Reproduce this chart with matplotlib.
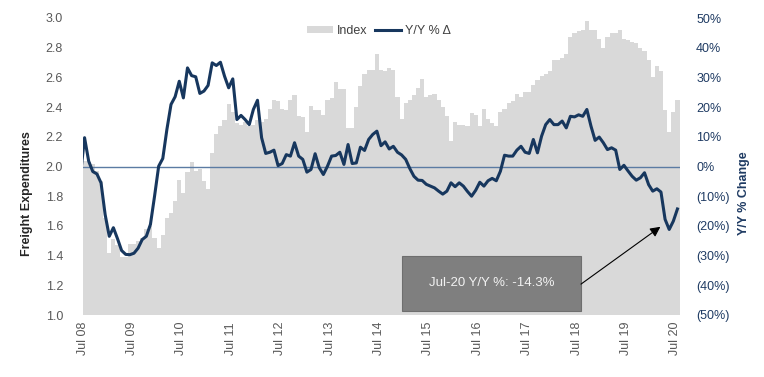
import numpy as np
import matplotlib
matplotlib.use("Agg")
import matplotlib.pyplot as plt
from matplotlib.patches import Rectangle, Patch
from matplotlib.lines import Line2D

plt.rcParams['font.family'] = ['Liberation Sans', 'DejaVu Sans']

# ---------------- data ----------------
# Monthly Index (left axis), Jul 2008 .. Jul 2020
index_vals = [
    2.04, 2.03, 2.02, 1.97, 1.90, 1.65, 1.42, 1.51, 1.47, 1.39, 1.39, 1.48,   # Jul08-Jun09
    1.48, 1.50, 1.52, 1.58, 1.60, 1.52, 1.45, 1.54, 1.65, 1.69, 1.77, 1.91,   # Jul09-Jun10
    1.82, 1.96, 2.03, 1.97, 1.98, 1.90, 1.85, 2.09, 2.22, 2.27, 2.31, 2.42,   # Jul10-Jun11
    2.37, 2.29, 2.28, 2.30, 2.27, 2.28, 2.31, 2.30, 2.32, 2.39, 2.45, 2.44,   # Jul11-Jun12
    2.39, 2.38, 2.45, 2.48, 2.34, 2.33, 2.23, 2.41, 2.38, 2.38, 2.35, 2.45,   # Jul12-Jun13
    2.46, 2.57, 2.52, 2.52, 2.26, 2.26, 2.40, 2.54, 2.62, 2.65, 2.65, 2.76,   # Jul13-Jun14
    2.65, 2.64, 2.66, 2.65, 2.47, 2.32, 2.43, 2.45, 2.48, 2.53, 2.59, 2.47,   # Jul14-Jun15
    2.48, 2.49, 2.45, 2.40, 2.34, 2.17, 2.30, 2.28, 2.28, 2.27, 2.36, 2.35,   # Jul15-Jun16
    2.27, 2.39, 2.32, 2.29, 2.27, 2.37, 2.39, 2.43, 2.44, 2.49, 2.47, 2.50,   # Jul16-Jun17
    2.50, 2.55, 2.58, 2.61, 2.62, 2.64, 2.72, 2.72, 2.73, 2.76, 2.87, 2.90,   # Jul17-Jun18
    2.91, 2.92, 2.98, 2.92, 2.92, 2.86, 2.80, 2.87, 2.90, 2.90, 2.92, 2.86,   # Jul18-Jun19
    2.85, 2.84, 2.83, 2.80, 2.78, 2.72, 2.60, 2.68, 2.64, 2.38, 2.23, 2.37,   # Jul19-Jun20
    2.45,                                                                     # Jul20
]

# Y/Y % change (right axis), Jun 2008 .. Jul 2020 (first value lies just left of the axis)
yoy_vals = [
    -3.0,
    9.7, 1.8, -1.7, -2.5, -5.5, -16.2, -23.5, -20.6, -24.3, -28.3, -29.6, -29.7,
    -29.2, -27.5, -24.6, -23.5, -19.5, -10.0, 0.1, 2.7, 12.5, 20.9, 23.5, 28.7,
    23.1, 33.2, 30.6, 30.2, 24.6, 25.4, 27.3, 34.9, 34.0, 35.1, 30.4, 26.5,
    29.5, 15.8, 17.2, 15.8, 14.1, 19.2, 22.3, 9.7, 4.4, 4.8, 5.5, 0.3,
    1.0, 4.0, 3.5, 8.0, 3.5, 2.4, -1.9, -1.0, 4.3, -0.4, -2.7, 0.1,
    3.5, 3.7, 4.8, 0.7, 7.4, 1.0, 1.2, 6.5, 5.4, 9.1, 10.8, 11.9,
    7.0, 8.3, 5.9, 6.8, 4.8, 3.9, 2.4, -0.7, -3.3, -4.6, -4.7, -6.0,
    -6.6, -7.2, -8.3, -9.3, -8.3, -5.5, -6.8, -5.5, -6.6, -8.4, -10.0, -8.0,
    -5.3, -6.6, -4.8, -4.0, -4.8, -1.6, 3.8, 3.5, 3.5, 5.5, 6.8, 4.8,
    4.4, 9.1, 4.6, 10.2, 14.1, 15.8, 14.1, 14.1, 15.3, 13.0, 16.9, 16.7,
    17.4, 16.9, 19.2, 13.6, 8.8, 9.9, 8.0, 5.7, 6.3, 5.5, -1.0, 0.4,
    -1.5, -3.3, -4.6, -3.8, -2.1, -6.1, -8.3, -7.5, -8.6, -17.8, -21.2, -18.4,
    -14.3,
]

x_tick_labels = ["Jul 08", "Jul 09", "Jul 10", "Jul 11", "Jul 12", "Jul 13", "Jul 14",
                 "Jul 15", "Jul 16", "Jul 17", "Jul 18", "Jul 19", "Jul 20"]
left_ticks = [1.0, 1.2, 1.4, 1.6, 1.8, 2.0, 2.2, 2.4, 2.6, 2.8, 3.0]
right_ticks = [-50, -40, -30, -20, -10, 0, 10, 20, 30, 40, 50]
annotation_text = "Jul-20 Y/Y %: -14.3%"

# ---------------- styling ----------------
BAR_C = "#D9D9D9"
LINE_C = "#17375E"
ZERO_C = "#5B7BA3"
LEFT_TXT = "#595959"
RIGHT_TXT = "#1F3B63"

fig = plt.figure(figsize=(7.64, 3.77), dpi=100)
ax = fig.add_axes([82.5 / 764, 1 - 315 / 377, 597 / 764, 297 / 377])
ax2 = ax.twinx()

n = len(index_vals)
xb = np.arange(n) + 0.5
ax.bar(xb, index_vals, width=1.0, color=BAR_C, linewidth=0, bottom=0)
ax.set_ylim(1.0, 3.0)
ax.set_xlim(0, n)

xl = np.arange(len(yoy_vals)) - 0.5
ax2.axhline(0, color=ZERO_C, lw=1.0, zorder=2)
ax2.plot(xl, yoy_vals, color=LINE_C, lw=2.2, zorder=3, solid_joinstyle='round')
ax2.set_ylim(-50, 50)
ax2.set_xlim(0, n)

for a in (ax, ax2):
    for s in a.spines.values():
        s.set_visible(False)

ax.set_yticks(left_ticks)
ax.set_yticklabels([f"{v:.1f}" for v in left_ticks])
ax.tick_params(axis='y', length=0, pad=14, labelsize=9, labelcolor=LEFT_TXT)

ax.set_xticks(np.arange(0, n, 12))
ax.set_xticklabels(x_tick_labels, rotation=90)
ax.tick_params(axis='x', length=0, pad=5, labelsize=9, labelcolor=LEFT_TXT)

ax2.set_yticks(right_ticks)
ax2.set_yticklabels([f"{v}%" if v >= 0 else f"({-v}%)" for v in right_ticks])
ax2.tick_params(axis='y', length=0, pad=12, labelsize=9, labelcolor=RIGHT_TXT)

fig.text(27 / 764, 1 - 194 / 377, "Freight Expenditures", rotation=90, ha='center', va='center',
         fontsize=9, fontweight='bold', color="#262626")
fig.text(744 / 764, 1 - 193 / 377, "Y/Y % Change", rotation=90, ha='center', va='center',
         fontsize=9, fontweight='bold', color=RIGHT_TXT)

handles = [Patch(facecolor=BAR_C, edgecolor='none'), Line2D([0], [0], color=LINE_C, lw=2.2)]
leg = ax2.legend(handles, ["Index", "Y/Y % \u0394"], loc='center', bbox_to_anchor=(0.496, 0.956),
                 ncol=2, frameon=False, fontsize=9, handlelength=2.1, handleheight=0.55,
                 handletextpad=0.3, columnspacing=0.6, labelcolor="#404040")

# annotation box
box = Rectangle((0.535, 0.0145), 0.300, 0.1845, transform=ax2.transAxes,
                facecolor="#7F7F7F", edgecolor="#6E6E6E", lw=0.8, zorder=5)
ax2.add_patch(box)
ax2.text(0.685, 0.107, annotation_text, transform=ax2.transAxes, ha='center', va='center',
         fontsize=9.5, color="#F2F2F2", zorder=6)
ax2.annotate("", xy=(0.968, 0.297), xycoords=ax2.transAxes,
             xytext=(0.835, 0.104), textcoords=ax2.transAxes,
             arrowprops=dict(arrowstyle="-|>,head_length=0.6,head_width=0.3", color="black", lw=0.8,
                             shrinkA=0, shrinkB=0), zorder=6)

fig.savefig("out.png", dpi=100, facecolor="white")
